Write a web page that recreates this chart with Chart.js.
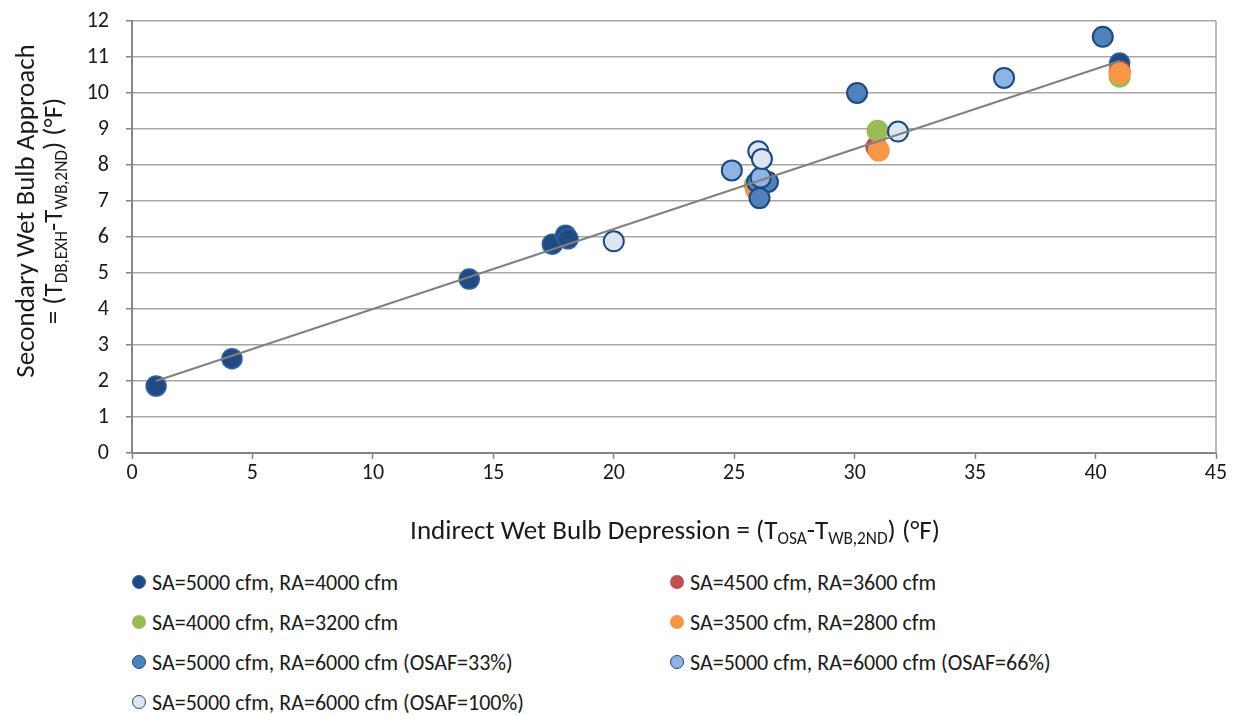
<!DOCTYPE html>
<html>
<head>
<meta charset="utf-8">
<script src="https://cdn.jsdelivr.net/npm/chart.js@4.4.0/dist/chart.umd.min.js"></script>
<style>
  body { margin: 0; background: #fff; }
  #wrap { position: relative; width: 1238px; height: 715px; font-family: Carlito, Calibri, Lato, sans-serif; color: #1a1a1a; }
  #legend .item { position: absolute; height: 28px; display: flex; align-items: center; font-size: 22px; white-space: nowrap; }
  #legend .dot { width: 14px; height: 14px; border-radius: 50%; box-sizing: border-box; margin-right: 6px; flex: none; }
</style>
</head>
<body>
<div id="wrap">
  <canvas id="myChart" width="1238" height="560"></canvas>
  <div id="legend"></div>
</div>
<script>
// series labels
const seriesNames = [
  'SA=5000 cfm, RA=4000 cfm',
  'SA=4500 cfm, RA=3600 cfm',
  'SA=4000 cfm, RA=3200 cfm',
  'SA=3500 cfm, RA=2800 cfm',
  'SA=5000 cfm, RA=6000 cfm (OSAF=33%)',
  'SA=5000 cfm, RA=6000 cfm (OSAF=66%)',
  'SA=5000 cfm, RA=6000 cfm (OSAF=100%)',
];

// x = indirect wet bulb depression, y = secondary wet bulb approach (°F)
const sa5000ra4000X = [1.0, 4.15, 14.0, 17.45, 18.0, 18.1, 41.0];
const sa5000ra4000Y = [1.86, 2.62, 4.83, 5.8, 6.05, 5.95, 10.83];
const sa4500ra3600X = [25.9, 30.9, 41.0];
const sa4500ra3600Y = [7.4, 8.5, 10.6];
const sa4000ra3200X = [25.85, 30.95, 41.0];
const sa4000ra3200Y = [7.45, 8.95, 10.45];
const sa3500ra2800X = [25.9, 31.0, 41.0];
const sa3500ra2800Y = [7.32, 8.4, 10.55];
const osaf33X = [40.3, 30.1, 25.95, 26.4, 26.05];
const osaf33Y = [11.56, 10.0, 7.53, 7.53, 7.08];
const osaf66X = [24.9, 36.2, 26.1];
const osaf66Y = [7.85, 10.42, 7.65];
const osaf100X = [20.0, 26.0, 26.15, 31.8];
const osaf100Y = [5.88, 8.38, 8.17, 8.93];

// linear trendline end points
const trendX = [1.0, 41.0];
const trendY = [2.0, 10.89];

const xTicks = [0, 5, 10, 15, 20, 25, 30, 35, 40, 45];
const yTicks = [0, 1, 2, 3, 4, 5, 6, 7, 8, 9, 10, 11, 12];

const fillColors = ['#1F4A84', '#C0504D', '#9BBB59', '#F79646', '#4F81BD', '#8DB4E2', '#DCE6F2'];
const edgeColors = ['#35609C', '#C0504D', '#9BBB59', '#F79646', '#1F497D', '#1F497D', '#1F497D'];
const edgeWidths = [1.5, 0, 0, 0, 2, 2, 2];

const xs = [sa5000ra4000X, sa4500ra3600X, sa4000ra3200X, sa3500ra2800X, osaf33X, osaf66X, osaf100X];
const ys = [sa5000ra4000Y, sa4500ra3600Y, sa4000ra3200Y, sa3500ra2800Y, osaf33Y, osaf66Y, osaf100Y];

const toPoints = (x, y) => x.map((v, i) => ({ x: v, y: y[i] }));

const datasets = seriesNames.map((name, i) => ({
  label: name,
  data: toPoints(xs[i], ys[i]),
  backgroundColor: fillColors[i],
  borderColor: edgeColors[i],
  borderWidth: edgeWidths[i],
  pointRadius: edgeWidths[i] ? 10 : 11,
  order: 10 - i, // later series on top, like the original
}));

datasets.push({
  label: 'trend',
  data: toPoints(trendX, trendY),
  showLine: true,
  borderColor: '#808080',
  borderWidth: 2,
  pointRadius: 0,
  order: 0,
});

const FONT = 'Carlito, Calibri, Lato, sans-serif';
const SUB = 0.64;

function richWidth(ctx, parts, size) {
  let w = 0;
  parts.forEach(([t, sub]) => {
    ctx.font = `${sub ? size * SUB : size}px ${FONT}`;
    w += ctx.measureText(t).width;
  });
  return w;
}

// draws normal + subscript parts centred on x
function drawRich(ctx, parts, x, y, size) {
  let cx = x - richWidth(ctx, parts, size) / 2;
  ctx.textAlign = 'left';
  ctx.textBaseline = 'alphabetic';
  parts.forEach(([t, sub]) => {
    ctx.font = `${sub ? size * SUB : size}px ${FONT}`;
    ctx.fillText(t, cx, sub ? y + size * 0.2 : y);
    cx += ctx.measureText(t).width;
  });
}

const xTitle = [
  ['Indirect Wet Bulb Depression = (T', false], ['OSA', true], ['-T', false],
  ['WB,2ND', true], [') (°F)', false],
];
const yTitle1 = [['Secondary Wet Bulb Approach', false]];
const yTitle2 = [
  ['= (T', false], ['DB,EXH', true], ['-T', false], ['WB,2ND', true], [') (°F)', false],
];

const axisTitles = {
  id: 'axisTitles',
  afterDraw(chart) {
    const { ctx } = chart;
    // size the titles so the x title spans the same width as in the original
    const size = 20 * 530 / richWidth(ctx, xTitle, 20);
    ctx.save();
    ctx.fillStyle = '#1a1a1a';
    drawRich(ctx, xTitle, 675, 539, size);
    ctx.translate(0, 211);
    ctx.rotate(-Math.PI / 2);
    drawRich(ctx, yTitle1, 0, 34, size);
    drawRich(ctx, yTitle2, 0, 62, size);
    ctx.restore();
  },
};

const plotBorder = {
  id: 'plotBorder',
  beforeDatasetsDraw(chart) {
    const { ctx, chartArea } = chart;
    ctx.save();
    ctx.strokeStyle = '#A6A6A6';
    ctx.lineWidth = 1.5;
    ctx.beginPath();
    ctx.moveTo(chartArea.right, chartArea.top);
    ctx.lineTo(chartArea.right, chartArea.bottom);
    ctx.stroke();
    ctx.restore();
  },
};

const chart = new Chart(document.getElementById('myChart').getContext('2d'), {
  type: 'scatter',
  data: { datasets },
  options: {
    responsive: false,
    animation: false,
    layout: { padding: { left: 0, right: 22, top: 21, bottom: 0 } },
    plugins: {
      legend: { display: false },
      tooltip: { enabled: false },
    },
    scales: {
      x: {
        type: 'linear',
        min: xTicks[0],
        max: xTicks[xTicks.length - 1],
        afterBuildTicks: (s) => { s.ticks = xTicks.map((v) => ({ value: v })); },
        afterFit: (s) => { s.height = 107; s.paddingLeft = 0; s.paddingRight = 0; },
        grid: { drawOnChartArea: false, drawTicks: true, tickLength: 6, tickColor: '#868686', tickWidth: 1.5 },
        border: { color: '#868686', width: 2 },
        ticks: { color: '#1a1a1a', font: { family: FONT, size: 22 }, padding: 1, maxRotation: 0 },
      },
      y: {
        type: 'linear',
        min: yTicks[0],
        max: yTicks[yTicks.length - 1],
        afterBuildTicks: (s) => { s.ticks = yTicks.map((v) => ({ value: v })); },
        afterFit: (s) => { s.width = 132; s.paddingTop = 0; s.paddingBottom = 0; },
        grid: { color: '#A6A6A6', lineWidth: 1.5, drawTicks: true, tickLength: 6, tickColor: '#868686' },
        border: { color: '#868686', width: 2 },
        ticks: { color: '#1a1a1a', font: { family: FONT, size: 22 }, padding: 17 },
      },
    },
  },
  plugins: [axisTitles, plotBorder],
});

// legend in two columns under the chart
const legend = document.getElementById('legend');
const colLeft = [132, 670];
const rowMid = [582, 622, 662, 702];
chart.data.datasets.slice(0, seriesNames.length).forEach((ds, i) => {
  const item = document.createElement('div');
  item.className = 'item';
  item.style.left = colLeft[i % 2] + 'px';
  item.style.top = (rowMid[Math.floor(i / 2)] - 14) + 'px';
  const dot = document.createElement('span');
  dot.className = 'dot';
  dot.style.background = ds.backgroundColor;
  dot.style.border = ds.borderWidth ? `1.5px solid ${ds.borderColor}` : 'none';
  item.appendChild(dot);
  item.appendChild(document.createTextNode(ds.label));
  legend.appendChild(item);
});
</script>
</body>
</html>
